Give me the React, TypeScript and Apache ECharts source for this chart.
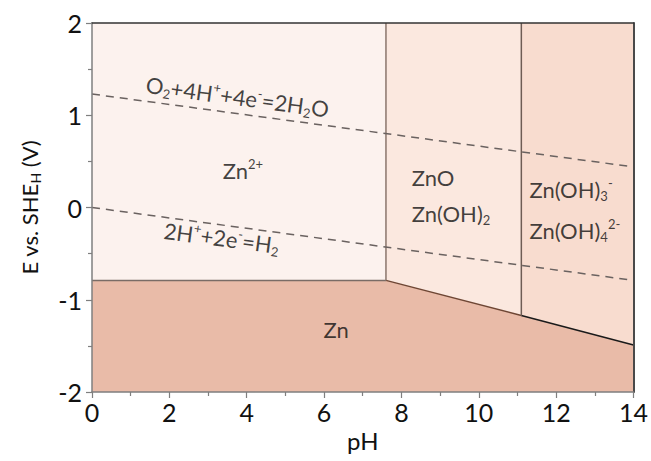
import React, { useEffect, useRef } from "react";
import * as echarts from "echarts";

// Axis ranges
const pHRange: [number, number] = [0, 14];
const eRange: [number, number] = [-2, 2];

// Phase boundaries
const phaseBoundaries = [7.6, 11.1];
const znBoundary: [number, number][] = [
  [0, -0.79],
  [7.6, -0.79],
  [11.1, -1.17],
  [14, -1.49],
];
const o2Line: [number, number][] = [
  [0, 1.23],
  [14, 0.44],
];
const h2Line: [number, number][] = [
  [0, 0],
  [14, -0.79],
];

const regionNames = ["Zn2+", "ZnO / Zn(OH)2", "Zn(OH)3- / Zn(OH)42-", "Zn"];
const regionFills = ["#fcf2ee", "#fbe8df", "#f8dccf", "#e9bba8"];

const labelTexts = [
  "Zn{sup|2+}",
  "ZnO",
  "Zn(OH){sub|2}",
  "Zn(OH){sub|3}{sup|-}",
  "Zn(OH){sub|4}{sup|2-}",
  "Zn",
  "O{sub|2}+4H{sup|+}+4e{sup|-}=2H{sub|2}O",
  "2H{sup|+}+2e{sup|-}=H{sub|2}",
];
const labelX = [3.9, 8.27, 8.27, 11.31, 11.31, 6.31, 3.76, 3.35];
const labelY = [0.4, 0.33, -0.06, 0.19, -0.25, -1.32, 1.2, -0.33];

const FONT = "Lato, 'Open Sans', sans-serif";

export default function App() {
  const ref = useRef<HTMLDivElement>(null);
  useEffect(() => {
    if (!ref.current) return;
    const chart = echarts.init(ref.current, undefined, { renderer: "svg" });
    const [pMin, pMax] = pHRange;
    const [eMin, eMax] = eRange;
    const [b0, b1] = phaseBoundaries;
    const polygons: [number, number][][] = [
      [[pMin, eMax], [b0, eMax], znBoundary[1], znBoundary[0]],
      [[b0, eMax], [b1, eMax], znBoundary[2], znBoundary[1]],
      [[b1, eMax], [pMax, eMax], znBoundary[3], znBoundary[2]],
      [...znBoundary, [pMax, eMin], [pMin, eMin]],
    ];

    const rich = {
      n: { fontSize: 22, lineHeight: 26, fontFamily: FONT, color: "#111" },
      sup: { fontSize: 13, lineHeight: 16, verticalAlign: "top", fontFamily: FONT, color: "#111" },
      sub: { fontSize: 13, lineHeight: 12, verticalAlign: "bottom", fontFamily: FONT, color: "#111" },
    };
    const wrap = (t: string) =>
      t
        .split(/(\{[^}]*\})/)
        .filter((s) => s.length)
        .map((s) => (s.startsWith("{") ? s : `{n|${s}}`))
        .join("");

    const alignments = ["center", "left", "left", "left", "left", "center", "center", "center"];
    const rotations = [0, 0, 0, 0, 0, 0, -7.7, -7.6];

    const seg = (data: [number, number][], color: string, width = 1.5, type: any = "solid") => ({
      type: "line",
      data,
      symbol: "none",
      silent: true,
      z: 4,
      lineStyle: { color, width, type },
    });

    const axisCommon = {
      axisLine: { show: true, onZero: false, lineStyle: { color: "#7f7f7f", width: 1.5 } },
      axisTick: { show: true, inside: false, length: 6, lineStyle: { color: "#7f7f7f", width: 1.2 } },
      minorTick: { show: true, splitNumber: 2, length: 4, lineStyle: { color: "#7f7f7f", width: 1.2 } },
      splitLine: { show: false },
      axisLabel: { fontSize: 25, color: "#111", fontFamily: FONT },
      z: 10,
    };

    chart.setOption({
      animation: false,
      grid: { left: 92, right: 16, top: 23, bottom: 69 },
      xAxis: [
        {
          type: "value",
          min: pMin,
          max: pMax,
          interval: 2,
          name: "pH",
          nameLocation: "middle",
          nameGap: 35,
          nameTextStyle: { fontSize: 24, color: "#111", fontFamily: FONT },
          ...axisCommon,
          axisLabel: { ...axisCommon.axisLabel, margin: 7 },
        },
        {
          type: "value",
          position: "top",
          min: pMin,
          max: pMax,
          axisLine: { show: true, onZero: false, lineStyle: { color: "#333", width: 1.5 } },
          axisTick: { show: false },
          axisLabel: { show: false },
          splitLine: { show: false },
          z: 10,
        },
      ],
      yAxis: [
        {
          type: "value",
          min: eMin,
          max: eMax,
          interval: 1,
          name: "{n|E vs. SHE}{s|H}{n| (V)}",
          nameLocation: "middle",
          nameGap: 50,
          nameRotate: 90,
          nameTextStyle: {
            fontSize: 22,
            color: "#111",
            fontFamily: FONT,
            rich: {
              n: { fontSize: 22, lineHeight: 26, fontFamily: FONT, color: "#111" },
              s: { fontSize: 14, verticalAlign: "bottom", lineHeight: 12, fontFamily: FONT, color: "#111" },
            },
          },
          ...axisCommon,
          axisLabel: { ...axisCommon.axisLabel, margin: 10 },
        },
        {
          type: "value",
          position: "right",
          min: eMin,
          max: eMax,
          axisLine: { show: true, onZero: false, lineStyle: { color: "#4a4a4a", width: 2 } },
          axisTick: { show: false },
          axisLabel: { show: false },
          splitLine: { show: false },
          z: 10,
        },
      ],
      series: [
        {
          type: "custom",
          silent: true,
          z: 1,
          clip: false,
          data: regionNames.map((name, i) => ({ name, value: [i, 0] })),
          renderItem: (params: any, api: any) => {
            const poly = polygons[params.dataIndex];
            return {
              type: "polygon",
              shape: { points: poly.map((p) => api.coord(p)) },
              style: { fill: regionFills[params.dataIndex], stroke: "none" },
            };
          },
        },
        seg([znBoundary[0], znBoundary[1]], "#7a6c66"),
        seg([znBoundary[1], znBoundary[2]], "#6e4634"),
        seg([znBoundary[2], znBoundary[3]], "#1a1a1a"),
        seg([[b0, eMax], znBoundary[1]], "#8a766c"),
        seg([[b1, eMax], znBoundary[2]], "#6e5c54"),
        seg(o2Line, "#6a6260", 1.5, [8, 6]),
        seg(h2Line, "#6a6260", 1.5, [8, 6]),
        {
          type: "scatter",
          symbolSize: 0,
          silent: true,
          z: 6,
          data: labelTexts.map((t, i) => ({
            value: [labelX[i], labelY[i]],
            label: {
              show: true,
              position: "inside",
              formatter: wrap(t),
              align: alignments[i],
              verticalAlign: "middle",
              rotate: rotations[i],
              rich,
            },
          })),
        },
      ],
    });
    return () => chart.dispose();
  }, []);
  return <div ref={ref} style={{ width: 651, height: 461, position: "absolute", left: 0, top: 0 }} />;
}
